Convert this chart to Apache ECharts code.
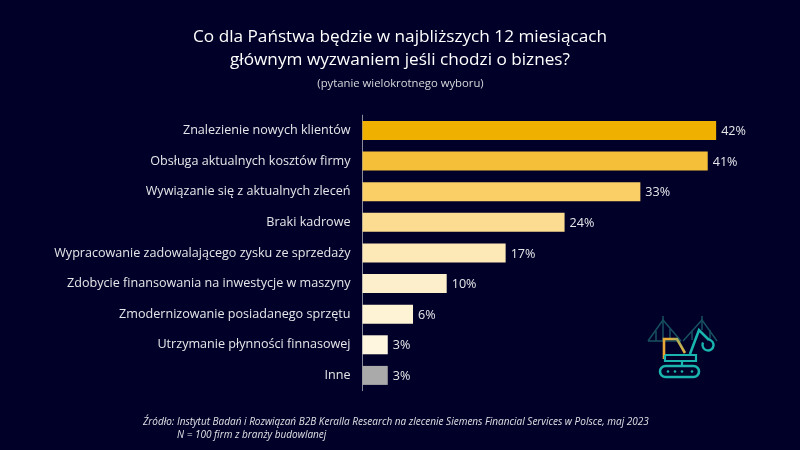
<!DOCTYPE html>
<html><head><meta charset="utf-8">
<style>html,body{margin:0;padding:0;background:#000028}#c{width:800px;height:450px}</style>
<script src="https://cdn.jsdelivr.net/npm/echarts@6/dist/echarts.min.js"></script>
</head><body><div id="c"></div>
<script>
const categories = ["Znalezienie nowych klientów","Obsługa aktualnych kosztów firmy","Wywiązanie się z aktualnych zleceń","Braki kadrowe","Wypracowanie zadowalającego zysku ze sprzedaży","Zdobycie finansowania na inwestycje w maszyny","Zmodernizowanie posiadanego sprzętu","Utrzymanie płynności finnasowej","Inne"];
const values = [42,41,33,24,17,10,6,3,3];
const colors = ["#F0B000","#F5BF3A","#F9CF66","#FBDC90","#FDE8B8","#FEEFCC","#FFF3D6","#FFF6E0","#AAAAAA"];
const titleLines = ["Co dla Państwa będzie w najbliższych 12 miesiącach","głównym wyzwaniem jeśli chodzi o biznes?"];
const subtitle = "(pytanie wielokrotnego wyboru)";
const sourceLine1 = "Źródło: Instytut Badań i Rozwiązań B2B Keralla Research na zlecenie Siemens Financial Services w Polsce, maj 2023";
const sourceLine2 = "N = 100 firm z branży budowlanej";
const font = "Open Sans";
const chart = echarts.init(document.getElementById('c'),null,{renderer:'canvas'});
const bridge = "#17505F", teal = "#19B5AE";
const cabGrad = new echarts.graphic.LinearGradient(0,1,1,0,[{offset:0,color:'#F0A030'},{offset:0.6,color:'#E8AE3A'},{offset:1,color:'#3FB5A0'}]);
const line=(pts,c,w)=>({type:'polyline',shape:{points:pts},style:{stroke:c,lineWidth:w||1.5,fill:null}});
chart.setOption({
  backgroundColor:'#000028',
  animation:false,
  title:[
    {text:titleLines.join("\n"),left:400,top:25.5,padding:0,textAlign:'center',textStyle:{color:'#fff',fontFamily:font,fontWeight:'normal',fontSize:17.2,lineHeight:23}},
    {text:subtitle,left:400.5,top:78,padding:0,textAlign:'center',textStyle:{color:'#D8D8DE',fontFamily:font,fontWeight:'normal',fontSize:11.3}},
    {text:sourceLine1,left:143,top:417.5,padding:0,textStyle:{color:'#E0E0E6',fontFamily:font,fontStyle:'italic',fontWeight:'normal',fontSize:10}},
    {text:sourceLine2,left:177,top:430.5,padding:0,textStyle:{color:'#E0E0E6',fontFamily:font,fontStyle:'italic',fontWeight:'normal',fontSize:10}}
  ],
  grid:{left:362.5,top:115.2,width:421,height:275.5,containLabel:false},
  xAxis:{type:'value',min:0,max:50,show:false},
  yAxis:{type:'category',inverse:true,data:categories,
    axisLine:{show:true,lineStyle:{color:'#8A8A9A',width:1}},axisTick:{show:false},
    axisLabel:{color:'#E6E6EA',fontFamily:font,fontSize:12.6,margin:12}},
  series:[{type:'bar',barWidth:19,
    data:values.map((v,i)=>({value:v,itemStyle:{color:colors[i]}})),
    label:{show:true,position:'right',distance:5,offset:[0,1],color:'#E6E6EA',fontFamily:font,fontSize:12.6,formatter:p=>p.value+'%'}}],
  graphic:[
    line([[648,341],[663,320],[681,341]],bridge),line([[663,316],[663,341]],bridge),
    line([[656,331],[656,341]],bridge),line([[670,329],[670,340]],bridge),
    line([[648,341],[681,341]],bridge),
    line([[683,341],[702,320],[717,341]],bridge),line([[702,316],[702,330]],bridge),
    line([[692,331],[692,340]],bridge),line([[710,330],[710,340]],bridge),
    line([[664,359],[664,339],[677,339],[685,353]],cabGrad,2.6),
    line([[665,355],[696,355],[696,361],[665,361],[665,355]],teal,2.2),
    line([[682,361],[682,366]],teal,2.2),
    {type:'rect',shape:{x:660,y:366,width:39,height:11,r:5.5},style:{stroke:teal,lineWidth:2.6,fill:null}},
    ...[668,675,682,692].map(x=>({type:'circle',shape:{cx:x,cy:371.5,r:1.3},style:{fill:teal}})),
    line([[690,354],[699,330],[709,340]],teal,2.6),
    {type:'arc',shape:{cx:708,cy:345,r:5.5,startAngle:-1.4,endAngle:3.6},style:{stroke:teal,lineWidth:2.4,fill:null}}
  ]
});
</script></body></html>
